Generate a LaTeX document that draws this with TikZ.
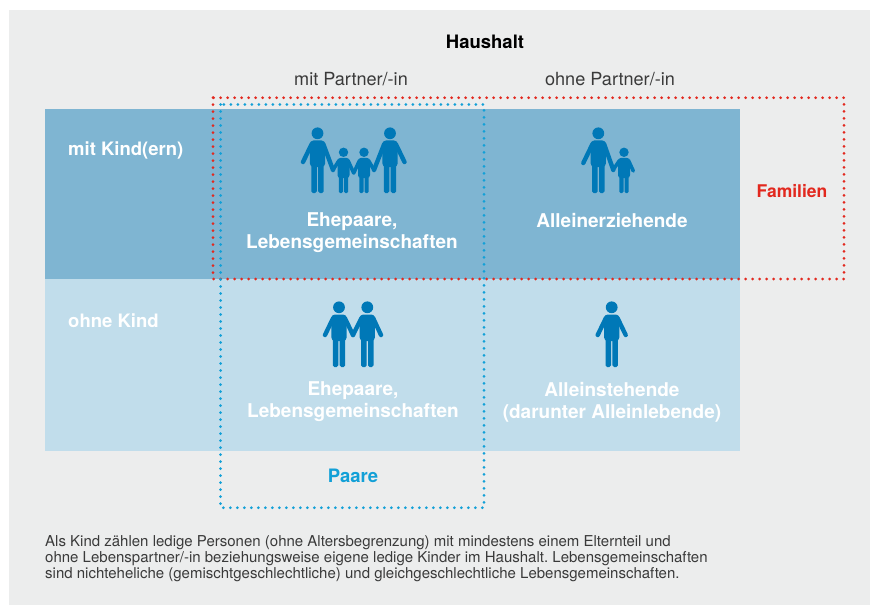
\documentclass[tikz,border=0pt]{standalone}
\usepackage{fontspec}
\setmainfont{TeX Gyre Heros}
\frenchspacing
\definecolor{bggray}{HTML}{ECEDED}
\definecolor{darkcell}{HTML}{7FB5D2}
\definecolor{lightcell}{HTML}{C1DDEB}
\definecolor{figblue}{HTML}{0078B7}
\definecolor{famred}{HTML}{E2281E}
\definecolor{paarblue}{HTML}{12A0D7}
\definecolor{txtgray}{HTML}{3A3A3A}
\tikzset{
  fig/.style={fill=figblue},
  armline/.style={draw=figblue, line width=4.4pt, line cap=round},
  dotred/.style={draw=famred, line width=3pt, line cap=round, dash pattern=on 0pt off 7pt},
  dotblue/.style={draw=paarblue, line width=3pt, line cap=round, dash pattern=on 0pt off 7pt},
  bigtxt/.style={font=\fontsize{18.1}{22}\selectfont, inner sep=0pt, align=center},
  boldtxt/.style={font=\bfseries\fontsize{18.5}{22}\selectfont, inner sep=0pt, align=center},
  celltxt/.style={font=\bfseries\fontsize{19}{22}\selectfont, inner sep=0pt, align=center, text=white},
}
% adult figure: #1 feet x, #2 feet y, #3 left hand rel, #4 right hand rel
\newcommand\adultfig[4]{%
  \begin{scope}[shift={(#1,#2)}]
    \fill[fig] (0,-59.7) circle (5.9);
    \fill[fig, rounded corners=3.5] (-7.6,-26) -- (-7.6,-52.5) -- (7.6,-52.5) -- (7.6,-26) -- cycle;
    \fill[fig, rounded corners=1.6] (-6.2,-30) rectangle (-0.7,0);
    \fill[fig, rounded corners=1.6] (0.7,-30) rectangle (6.2,0);
    \draw[armline] (-5.8,-49) -- #3;
    \draw[armline] (5.8,-49) -- #4;
  \end{scope}}
\newcommand\childfig[4]{%
  \begin{scope}[shift={(#1,#2)}]
    \fill[fig] (0,-40.7) circle (4.7);
    \fill[fig, rounded corners=2.8] (-6,-15) -- (-6,-35) -- (6,-35) -- (6,-15) -- cycle;
    \fill[fig, rounded corners=1.3] (-4.7,-18) rectangle (-0.5,0);
    \fill[fig, rounded corners=1.3] (0.5,-18) rectangle (4.7,0);
    \draw[armline, line width=3.6pt] (-4.5,-32.5) -- #3;
    \draw[armline, line width=3.6pt] (4.5,-32.5) -- #4;
  \end{scope}}
\begin{document}
\begin{tikzpicture}[x=1pt,y=-1pt]
\useasboundingbox (0,0) rectangle (870,607);
\fill[bggray] (9,10) rectangle (870,605);
% cells
\fill[darkcell] (45,109) rectangle (740,279);
\fill[lightcell] (45,279) rectangle (740,451);
% figures row 1
\adultfig{317.5}{193}{(-14.5,-31)}{(15.5,-23)}
\childfig{343.5}{193}{(-10.5,-23)}{(10.2,-20)}
\childfig{364}{193}{(-10.3,-20)}{(10,-23)}
\adultfig{390}{193}{(-16,-23)}{(14.5,-31)}
\adultfig{598.3}{193}{(-15,-30)}{(15,-23)}
\childfig{624}{193}{(-11,-23)}{(9.3,-22)}
% figures row 2
\adultfig{339}{367}{(-14,-32)}{(14,-32)}
\adultfig{367.3}{367}{(-14.3,-32)}{(13.7,-32)}
\adultfig{611.7}{367}{(-14,-32)}{(14,-32)}
% texts
\node[boldtxt, text=black] (haushalt) at (485,42) {Haushalt};
\node[bigtxt, text=txtgray] (mitp) at (351,79) {mit Partner/-in};
\node[bigtxt, text=txtgray] (ohnep) at (610,79) {ohne Partner/-in};
\node[boldtxt, text=white, anchor=west] (mitk) at (68,150) {mit Kind(ern)};
\node[boldtxt, text=white, anchor=west] (ohnek) at (68,321) {ohne Kind};
\node[celltxt] (ehe1) at (352,233) {Ehepaare,\\Lebensgemeinschaften};
\node[celltxt] (allerz) at (612,221) {Alleinerziehende};
\node[celltxt] (ehe2) at (353,402) {Ehepaare,\\Lebensgemeinschaften};
\node[celltxt] (allst) at (612,402) {Alleinstehende\\(darunter Alleinlebende)};
\node[boldtxt, text=famred, font=\bfseries\fontsize{17.5}{22}\selectfont] (fam) at (792,191) {Familien};
\node[boldtxt, text=paarblue] (paare) at (353,476) {Paare};
\node[font=\fontsize{15}{16}\selectfont, text=txtgray, inner sep=0pt, align=left, anchor=north west] (note) at (45,535)
 {Als Kind zählen ledige Personen (ohne Altersbegrenzung) mit mindestens einem Elternteil und\\
  ohne Lebenspartner/-in beziehungsweise eigene ledige Kinder im Haushalt. Lebensgemeinschaften\\
  sind nichteheliche (gemischtgeschlechtliche) und gleichgeschlechtliche Lebensgemeinschaften.};
% dotted frames
\draw[dotred] (213,97.7) rectangle (844,279);
\draw[dotblue] (220.5,104.5) rectangle (484,507.7);
\end{tikzpicture}
\end{document}
